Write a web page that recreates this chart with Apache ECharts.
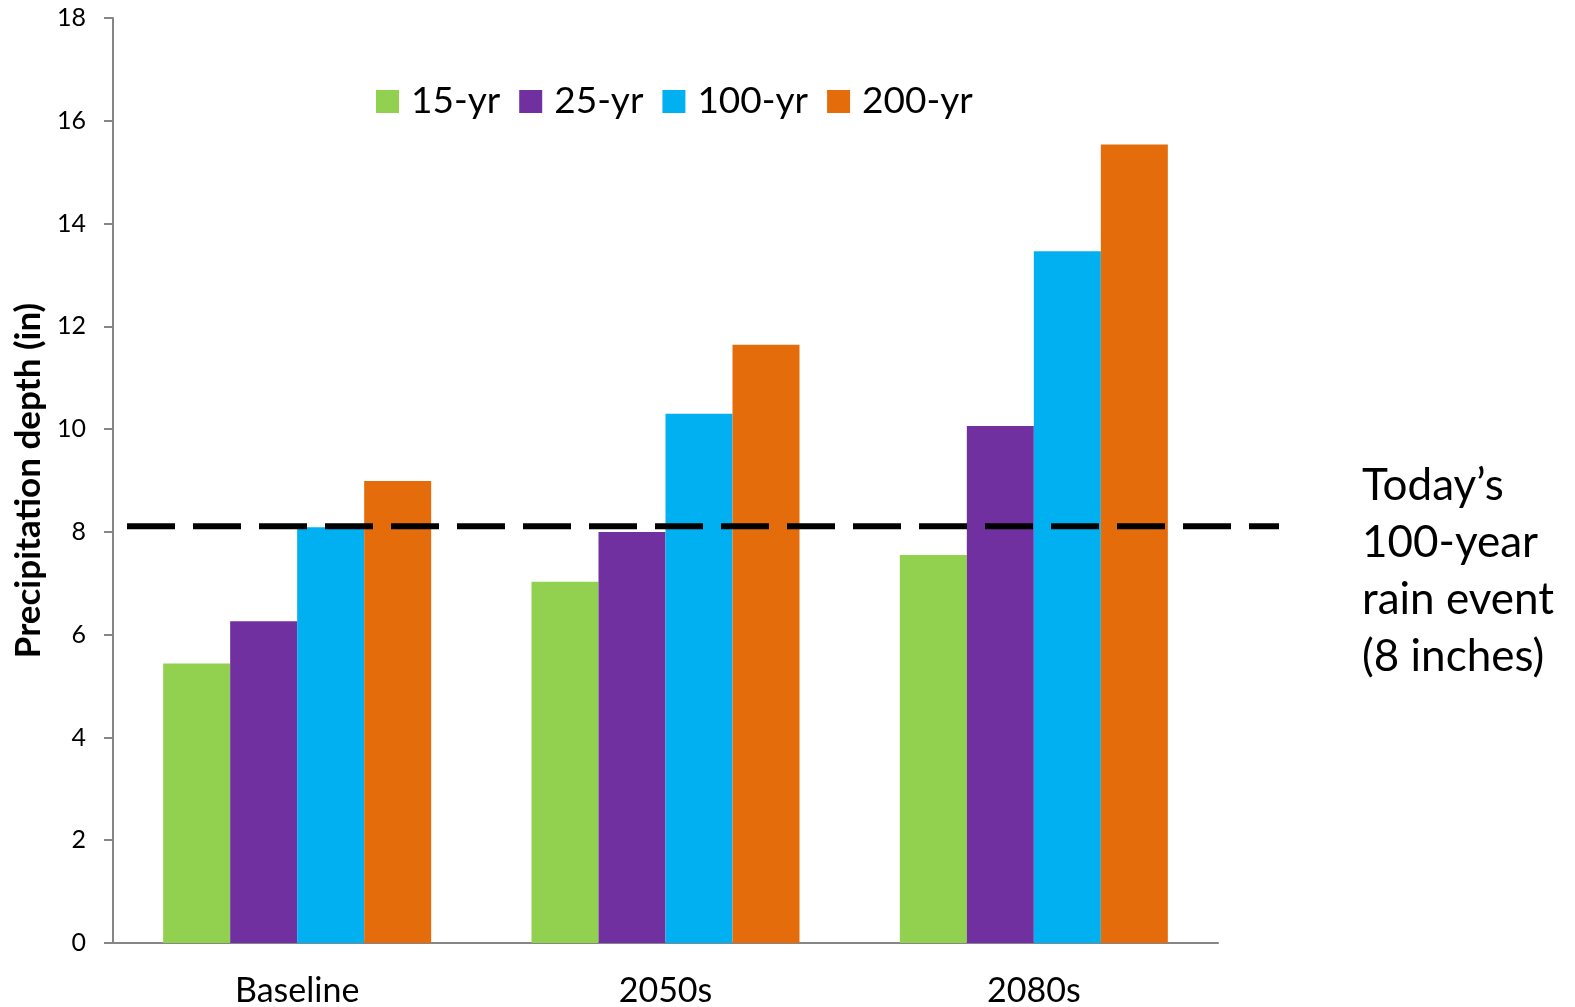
<!DOCTYPE html>
<html>
<head>
<meta charset="utf-8">
<script src="https://cdn.jsdelivr.net/npm/echarts@6/dist/echarts.min.js"></script>
<style>
  html, body { margin: 0; padding: 0; background: #fff; }
  #chart { width: 1575px; height: 1007px; }
</style>
</head>
<body>
<div id="chart"></div>
<script>
// Projected design-storm precipitation depth (inches)
const periods = ['Baseline', '2050s', '2080s'];
const seriesNames = ['15-yr', '25-yr', '100-yr', '200-yr'];
const yr15 = [5.44, 7.03, 7.55];
const yr25 = [6.26, 8.00, 10.06];
const yr100 = [8.09, 10.30, 13.46];
const yr200 = [8.99, 11.64, 15.54];
// Today's 100-year rain event level
const todayLevel = 8.11;
const yTicks = { min: 0, max: 18, interval: 2 };

const colors = ['#92D050', '#7030A0', '#00B0F0', '#E46C0A'];
const axisGrey = '#868686';
const font = 'Lato';

const values = [yr15, yr25, yr100, yr200];

const chart = echarts.init(document.getElementById('chart'), null, { renderer: 'canvas' });

const barSeries = seriesNames.map((name, i) => ({
  name: name,
  type: 'bar',
  xAxisIndex: 0,
  yAxisIndex: 0,
  data: values[i],
  barWidth: 67,
  barGap: '0%',
  itemStyle: { color: colors[i] },
  silent: true
}));

chart.setOption({
  animation: false,
  backgroundColor: '#ffffff',
  textStyle: { fontFamily: font, color: '#000' },
  title: {
    text: 'Today\u2019s\n100-year\nrain event\n(8 inches)',
    left: 1357,
    top: 452,
    textStyle: { fontFamily: font, fontSize: 44, fontWeight: 'normal', lineHeight: 57, color: '#000' }
  },
  legend: {
    data: seriesNames,
    left: 376,
    top: 83,
    padding: 0,
    itemWidth: 23,
    itemHeight: 23,
    itemGap: 19,
    icon: 'rect',
    textStyle: { fontFamily: font, fontSize: 37, color: '#000', padding: [0, 0, 0, 7] }
  },
  grid: [
    { left: 113, right: 357, top: 18, bottom: 64, containLabel: false, outerBoundsMode: 'none' },
    { left: 127, right: 296, top: 18, bottom: 64, containLabel: false, outerBoundsMode: 'none' }
  ],
  xAxis: [
    {
      type: 'category',
      gridIndex: 0,
      data: periods,
      axisLine: { show: true, lineStyle: { color: axisGrey, width: 2 } },
      axisTick: { show: false },
      axisLabel: { fontFamily: font, fontSize: 34, color: '#000', margin: 31 }
    },
    {
      type: 'category',
      gridIndex: 1,
      data: ['start', 'end'],
      boundaryGap: false,
      show: false
    }
  ],
  yAxis: [
    {
      type: 'value',
      gridIndex: 0,
      min: yTicks.min,
      max: yTicks.max,
      interval: yTicks.interval,
      name: 'Precipitation depth (in)',
      nameLocation: 'middle',
      nameGap: 64,
      nameTextStyle: { fontFamily: font, fontSize: 35, fontWeight: 'bold', color: '#000' },
      axisLine: { show: true, lineStyle: { color: axisGrey, width: 2 } },
      axisTick: { show: true, length: 9, lineStyle: { color: axisGrey, width: 2 } },
      axisLabel: { fontFamily: font, fontSize: 25, color: '#000', margin: 27 },
      splitLine: { show: false }
    },
    {
      type: 'value',
      gridIndex: 1,
      min: yTicks.min,
      max: yTicks.max,
      show: false
    }
  ],
  series: barSeries.concat([{
    name: 'today',
    type: 'line',
    xAxisIndex: 1,
    yAxisIndex: 1,
    data: [todayLevel, todayLevel],
    symbol: 'none',
    silent: true,
    z: 5,
    lineStyle: { color: '#000', width: 6, type: [48, 18], cap: 'butt' }
  }])
});
</script>
</body>
</html>
